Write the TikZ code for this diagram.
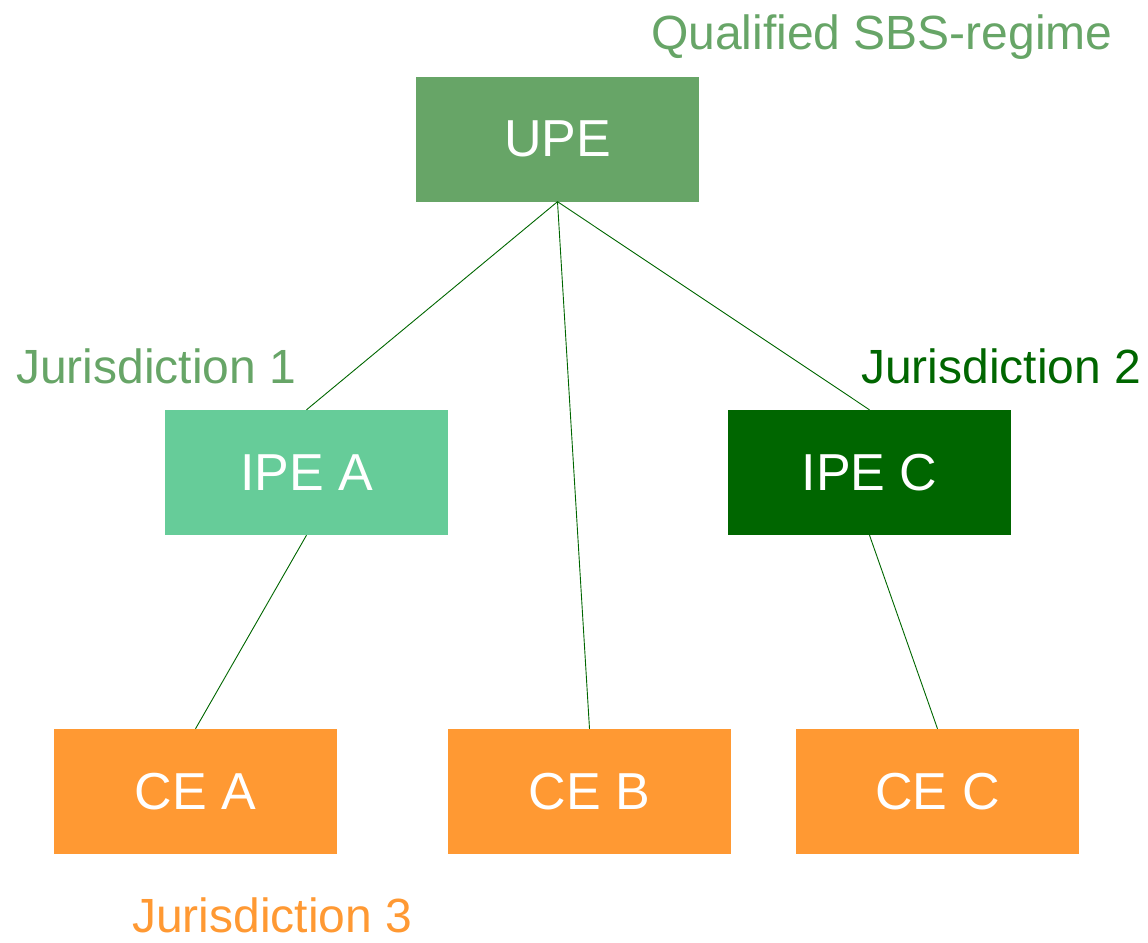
\documentclass[tikz,border=0pt]{standalone}
\usepackage{fontspec}
\setmainfont{Liberation Sans}
\definecolor{upegreen}{HTML}{67A567}
\definecolor{ipegreen}{HTML}{66CC99}
\definecolor{darkgreen}{HTML}{006600}
\definecolor{ceorange}{HTML}{FF9933}
\begin{document}
\begin{tikzpicture}[x=1pt, y=-1pt,
        entity/.style={minimum width=283pt, minimum height=125pt, inner sep=0pt,
            text=white, font=\fontsize{52}{60}\selectfont},
        juris/.style={anchor=base west, inner sep=0pt, font=\fontsize{48}{56}\selectfont},
        link/.style={darkgreen, line width=0.9pt}]
        \useasboundingbox (0, 0) rectangle (1148, 942);
        \node[entity, fill=upegreen] (UPE) at (557.5, 139) {UPE};
        \node[entity, fill=ipegreen] (IPEA) at (306.5, 472.5) {IPE A};
        \node[entity, fill=darkgreen] (IPEC) at (869.5, 472.5) {IPE C};
        \node[entity, fill=ceorange] (CEA) at (195.5, 791.5) {CE A};
        \node[entity, fill=ceorange] (CEB) at (589.5, 791.5) {CE B};
        \node[entity, fill=ceorange] (CEC) at (937.5, 791.5) {CE C};
        \node[juris, text=upegreen] (regime) at (651, 49) {Qualified SBS-regime};
        \node[juris, text=upegreen] (J1) at (16, 383) {Jurisdiction 1};
        \node[juris, text=darkgreen] (J2) at (861, 383) {Jurisdiction 2};
        \node[juris, text=ceorange] (J3) at (132, 932) {Jurisdiction 3};
        \draw[link] (UPE.south) to (IPEA.north);
        \draw[link] (UPE.south) to (CEB.north);
        \draw[link] (UPE.south) to (IPEC.north);
        \draw[link] (IPEA.south) to (CEA.north);
        \draw[link] (IPEC.south) to (CEC.north);
    \end{tikzpicture}
\end{document}
